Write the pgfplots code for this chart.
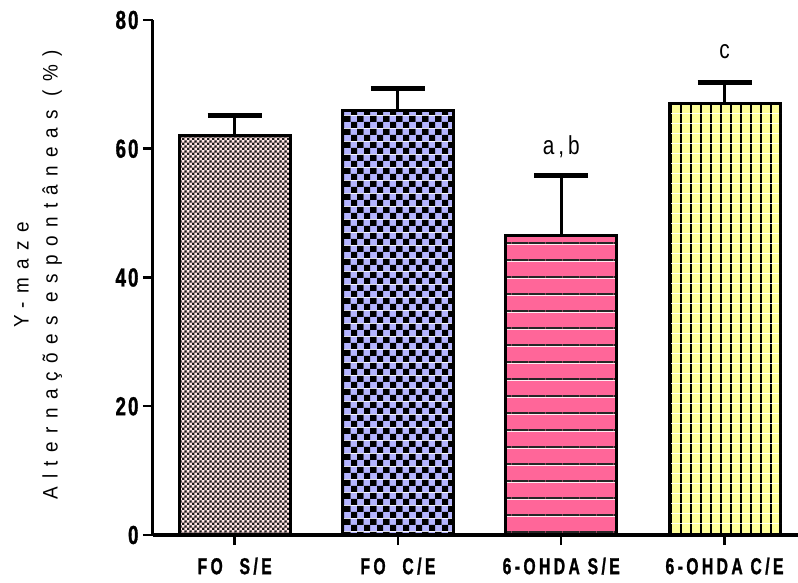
\documentclass[border=0pt]{standalone}
\usepackage{fontspec}
\setmainfont{Liberation Sans}
\newfontfamily\tickfont[FakeStretch=0.68,LetterSpace=15,FakeBold=1.2]{Liberation Sans}
\newfontfamily\ytickfont[FakeStretch=0.72,LetterSpace=8,FakeBold=1.2]{Liberation Sans}
\newfontfamily\labfont[FakeStretch=0.9,LetterSpace=40]{Liberation Sans}
\newfontfamily\annfont[FakeStretch=0.8,LetterSpace=15]{Liberation Sans}
\usepackage{pgfplots}
\pgfplotsset{compat=1.18}
\usetikzlibrary{patterns}

\definecolor{pinkbg}{HTML}{FFE0E0}
\definecolor{lav}{HTML}{B4B4FF}
\definecolor{hotpink}{HTML}{FF6699}
\definecolor{lyellow}{HTML}{FFFF99}

\pgfdeclarepatterninherentlycolored{checkfine}{\pgfpointorigin}{\pgfpoint{4.8bp}{4.8bp}}{\pgfpoint{4.8bp}{4.8bp}}{%
  \pgfsetfillcolor{pinkbg}%
  \pgfpathrectangle{\pgfpointorigin}{\pgfpoint{4.8bp}{4.8bp}}\pgfusepath{fill}%
  \pgfsetfillcolor{black!90}%
  \pgfpathrectangle{\pgfpointorigin}{\pgfpoint{2.4bp}{2.4bp}}%
  \pgfpathrectangle{\pgfpoint{2.4bp}{2.4bp}}{\pgfpoint{2.4bp}{2.4bp}}%
  \pgfusepath{fill}%
}
\pgfdeclarepatterninherentlycolored{checkcoarse}{\pgfpointorigin}{\pgfpoint{13bp}{13bp}}{\pgfpoint{13bp}{13bp}}{%
  \pgfsetfillcolor{lav}%
  \pgfpathrectangle{\pgfpointorigin}{\pgfpoint{13bp}{13bp}}\pgfusepath{fill}%
  \pgfsetfillcolor{black}%
  \pgfpathrectangle{\pgfpointorigin}{\pgfpoint{6.5bp}{6.5bp}}%
  \pgfpathrectangle{\pgfpoint{6.5bp}{6.5bp}}{\pgfpoint{6.5bp}{6.5bp}}%
  \pgfusepath{fill}%
}
\pgfdeclarepatterninherentlycolored{hstripes}{\pgfpointorigin}{\pgfpoint{16.5bp}{16.5bp}}{\pgfpoint{16.5bp}{16.5bp}}{%
  \pgfsetfillcolor{hotpink}%
  \pgfpathrectangle{\pgfpointorigin}{\pgfpoint{16.5bp}{16.5bp}}\pgfusepath{fill}%
  \pgfsetfillcolor{black!85}%
  \pgfpathrectangle{\pgfpointorigin}{\pgfpoint{16.5bp}{2bp}}%
  \pgfusepath{fill}%
}
\pgfdeclarepatterninherentlycolored{vstripes}{\pgfpointorigin}{\pgfpoint{10bp}{10bp}}{\pgfpoint{10bp}{10bp}}{%
  \pgfsetfillcolor{lyellow}%
  \pgfpathrectangle{\pgfpointorigin}{\pgfpoint{10bp}{10bp}}\pgfusepath{fill}%
  \pgfsetfillcolor{black}%
  \pgfpathrectangle{\pgfpointorigin}{\pgfpoint{2bp}{10bp}}%
  \pgfusepath{fill}%
}

\begin{document}
\begin{tikzpicture}
\begin{axis}[
  at={(0,0)}, anchor=south west,
  scale only axis, width=645bp, height=515bp,
  xmin=-0.5, xmax=3.45, ymin=0, ymax=80,
  axis x line*=bottom, axis y line*=left,
  axis line style={line width=3bp, -, black},
  xtick={0,1,2,3},
  xticklabels={FO\hspace{9bp} S/E, FO\hspace{9bp} C/E, 6-OHDA S/E, 6-OHDA C/E},
  ytick={0,20,40,60,80},
  tick align=outside, major tick length=10bp,
  tick style={line width=2.5bp, black},
  /pgf/number format/assume math mode=true,
  xticklabel style={font=\tickfont\bfseries\fontsize{23bp}{23bp}\selectfont, yshift=-9bp},
  yticklabel style={font=\ytickfont\bfseries\fontsize{26bp}{26bp}\selectfont, xshift=-1bp},
  every axis y label/.style={at={(axis description cs:-0.178,0.505)}, rotate=90, anchor=center,
    align=center, font=\labfont\fontsize{21bp}{29bp}\selectfont},
  ylabel={Y-maze\\Alternações espontâneas (\%)},
  ybar, bar width=0.68,
  error bars/y dir=plus, error bars/y explicit,
  error bars/error bar style={line width=3bp, black},
  error bars/error mark options={line width=5bp, black, mark size=27bp, rotate=90},
]
\addplot[bar shift=0pt, draw=black, line width=3bp, pattern=checkfine]
  coordinates {(0,62.1) +- (0,3.0)};
\addplot[bar shift=0pt, draw=black, line width=3bp, pattern=checkcoarse]
  coordinates {(1,65.9) +- (0,3.4)};
\addplot[bar shift=0pt, draw=black, line width=3bp, pattern=hstripes]
  coordinates {(2,46.5) +- (0,9.4)};
\addplot[bar shift=0pt, draw=black, line width=3bp, pattern=vstripes]
  coordinates {(3,67.1) +- (0,3.2)};
\node[font=\annfont\fontsize{26bp}{26bp}\selectfont, anchor=base] at (axis cs:2,59.1) {a,b};
\node[font=\annfont\fontsize{26bp}{26bp}\selectfont, anchor=base] at (axis cs:3,74.0) {c};
\end{axis}
\pgfresetboundingbox
\path[use as bounding box] (-153bp,-48bp) rectangle (645bp,535bp);
\end{tikzpicture}
\end{document}
